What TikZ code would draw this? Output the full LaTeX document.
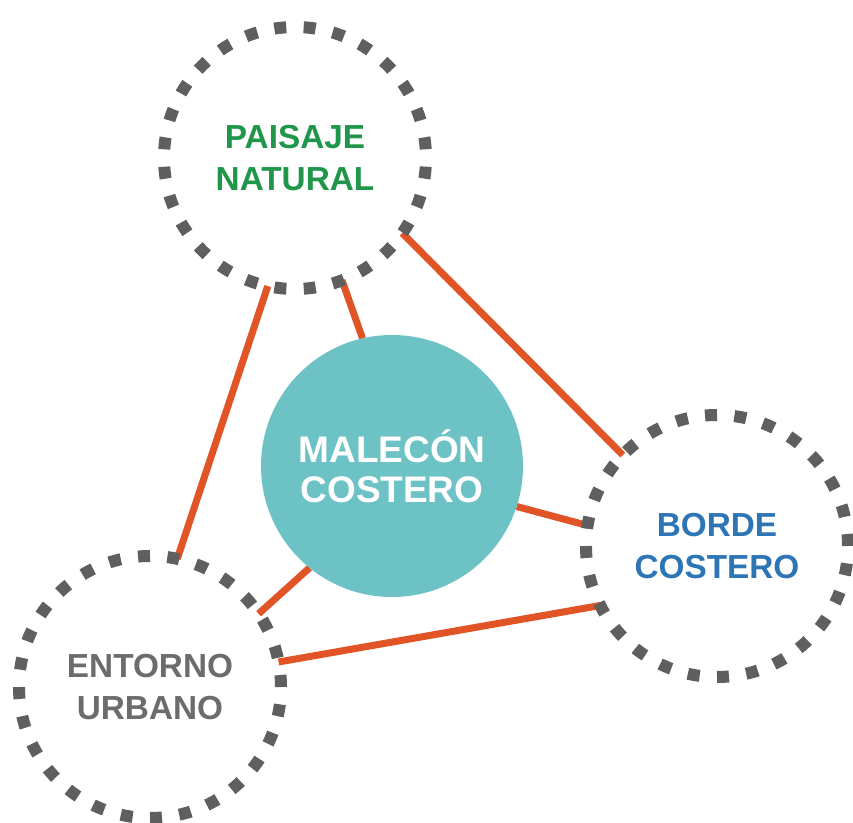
\documentclass[tikz,border=0pt]{standalone}
\usepackage{fontspec}
\setmainfont{Liberation Sans}
\usepackage{tikz}
\usetikzlibrary{backgrounds}
\usepackage{xcolor}
\definecolor{dotgray}{RGB}{95,95,95}
\definecolor{linkred}{RGB}{224,84,38}
\definecolor{malteal}{RGB}{108,194,196}
\definecolor{pngreen}{RGB}{32,150,74}
\definecolor{bcblue}{RGB}{46,117,182}
\definecolor{eugray}{RGB}{108,108,108}

\begin{document}
\begin{tikzpicture}[x=0.75pt,y=-0.75pt]
\tikzstyle{ring}=[circle,outer sep=0pt,minimum size=196.5pt,draw=dotgray,line width=9pt,dash pattern=on 9pt off 13.05pt,align=center,font=\bfseries\fontsize{25}{31.5}\selectfont]
\tikzstyle{link}=[line width=5.25pt,draw=linkred]
\useasboundingbox (0,0) rectangle (853,823);
\node[ring,text=pngreen,dash phase=15.5pt] (pn) at (295,158) {PAISAJE\\NATURAL};
\node[ring,text=bcblue] (bc) at (717,546) {BORDE\\COSTERO};
\node[ring,text=eugray] (eu) at (150,687) {ENTORNO\\URBANO};
\node[circle,outer sep=0pt,minimum size=196.5pt,fill=malteal,text=white,align=center,
  font=\bfseries\fontsize{27.75}{30}\selectfont] (mc) at (392,466) {MALECÓN\\COSTERO};
\begin{scope}[on background layer]
\draw[link] (pn.258) -- (eu.78);
\draw[link] (pn.-69) -- (mc.103);
\draw[link] (pn.-35.5) -- (bc.136.8);
\draw[link] (mc.-18.2) -- (bc.171.6);
\draw[link] (mc.231) -- (eu.34.8);
\draw[link] (eu.11.7) -- (bc.207.4);
\end{scope}
\end{tikzpicture}
\end{document}
